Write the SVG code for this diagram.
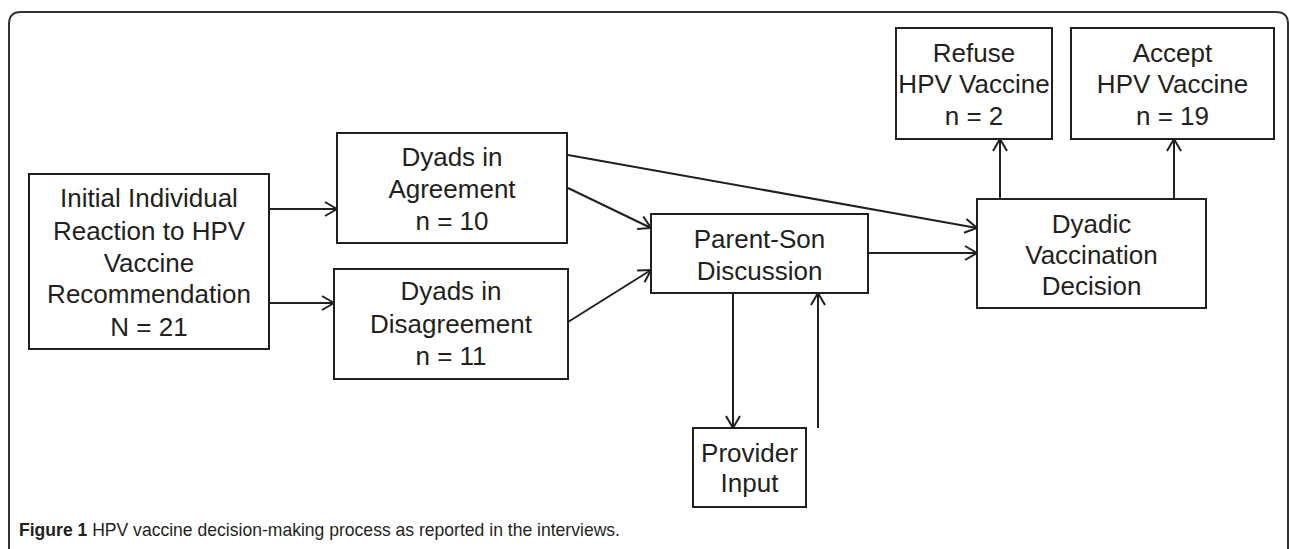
<svg xmlns="http://www.w3.org/2000/svg" width="1290" height="549" viewBox="0 0 1290 549">
<defs>
<style>
.box{fill:#fff;stroke:#231f20;stroke-width:2}
.t{font-family:"Liberation Sans",Arial,sans-serif;font-size:26px;fill:#231f20;text-anchor:middle}
.c{fill:none;stroke:#231f20;stroke-width:2}
.cap{font-family:"Liberation Sans",Arial,sans-serif;font-size:19px;fill:#231f20}
</style>
<marker id="ah" markerWidth="14" markerHeight="16" refX="13" refY="8" orient="auto" markerUnits="userSpaceOnUse">
<path d="M1,1 L13,8 L1,15" fill="none" stroke="#231f20" stroke-width="2"/>
</marker>
</defs>
<rect x="0" y="0" width="1290" height="549" fill="#fff"/>
<path d="M9,560 L9,24 Q9,12 21,12 L1276,12 Q1288,12 1288,24 L1288,560" fill="none" stroke="#333" stroke-width="2"/>

<g id="connectors">
<path class="c" d="M269,209 L337,209" marker-end="url(#ah)"/>
<path class="c" d="M269,303 L334,303" marker-end="url(#ah)"/>
<path class="c" d="M568,188 L651,228" marker-end="url(#ah)"/>
<path class="c" d="M568,322 L651,270" marker-end="url(#ah)"/>
<path class="c" d="M568,155 L977,228" marker-end="url(#ah)"/>
<path class="c" d="M868,253 L977,253" marker-end="url(#ah)"/>
<path class="c" d="M733,293 L733,428" marker-end="url(#ah)"/>
<path class="c" d="M818,428 L818,293" marker-end="url(#ah)"/>
<path class="c" d="M1000,199 L1000,139" marker-end="url(#ah)"/>
<path class="c" d="M1174,199 L1174,139" marker-end="url(#ah)"/>
</g>

<g id="initial">
<rect class="box" x="29" y="174" width="240" height="175"/>
<text class="t" x="149" y="207">Initial Individual</text>
<text class="t" x="149" y="240">Reaction to HPV</text>
<text class="t" x="149" y="272">Vaccine</text>
<text class="t" x="149" y="303">Recommendation</text>
<text class="t" x="149" y="336">N = 21</text>
</g>

<g id="agreement">
<rect class="box" x="337" y="133" width="230" height="110"/>
<text class="t" x="452" y="166">Dyads in</text>
<text class="t" x="452" y="198">Agreement</text>
<text class="t" x="452" y="230">n = 10</text>
</g>

<g id="disagreement">
<rect class="box" x="334" y="269" width="234" height="110"/>
<text class="t" x="451" y="300">Dyads in</text>
<text class="t" x="451" y="333">Disagreement</text>
<text class="t" x="451" y="365">n = 11</text>
</g>

<g id="discussion">
<rect class="box" x="651" y="214" width="217" height="79"/>
<text class="t" x="759.5" y="248">Parent-Son</text>
<text class="t" x="759.5" y="280">Discussion</text>
</g>

<g id="provider">
<rect class="box" x="693" y="428" width="113" height="79"/>
<text class="t" x="749.5" y="462">Provider</text>
<text class="t" x="749.5" y="492">Input</text>
</g>

<g id="decision">
<rect class="box" x="977" y="199" width="229" height="109"/>
<text class="t" x="1091.5" y="233">Dyadic</text>
<text class="t" x="1091.5" y="264">Vaccination</text>
<text class="t" x="1091.5" y="295">Decision</text>
</g>

<g id="refuse">
<rect class="box" x="896" y="28" width="156" height="111"/>
<text class="t" x="974" y="62">Refuse</text>
<text class="t" x="974" y="93">HPV Vaccine</text>
<text class="t" x="974" y="125">n = 2</text>
</g>

<g id="accept">
<rect class="box" x="1071" y="28" width="203" height="111"/>
<text class="t" x="1172.5" y="62">Accept</text>
<text class="t" x="1172.5" y="93">HPV Vaccine</text>
<text class="t" x="1172.5" y="125">n = 19</text>
</g>

<text class="cap" x="19" y="536" textLength="601" lengthAdjust="spacingAndGlyphs"><tspan font-weight="bold">Figure 1</tspan> HPV vaccine decision-making process as reported in the interviews.</text>
</svg>
